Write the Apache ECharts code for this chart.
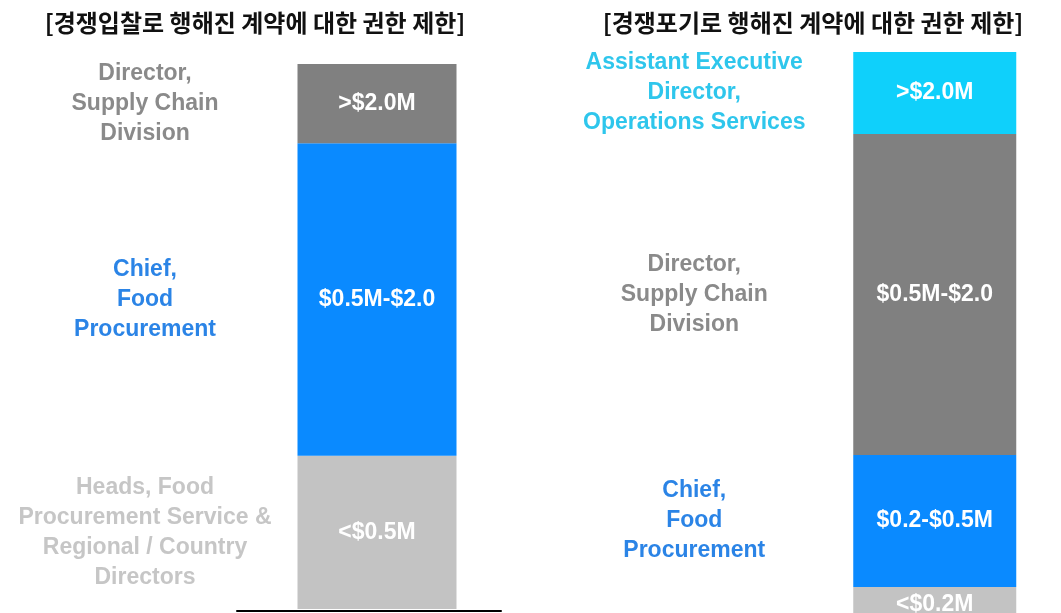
<!DOCTYPE html>
<html>
<head>
<meta charset="utf-8">
<script src="https://cdn.jsdelivr.net/npm/echarts@6/dist/echarts.min.js"></script>
<style>
  html, body { margin: 0; padding: 0; background: #fff; }
  #chart { width: 1061px; height: 613px; }
</style>
</head>
<body>
<div id="chart"></div>
<script>
// 두 개의 누적 막대: 왼쪽 = 경쟁입찰, 오른쪽 = 경쟁포기 (아래에서 위로)
const titles = ['[경쟁입찰로 행해진 계약에 대한 권한 제한]', '[경쟁포기로 행해진 계약에 대한 권한 제한]'];

const leftRoles = [
  'Heads, Food\nProcurement Service &\nRegional / Country\nDirectors',
  'Chief,\nFood\nProcurement',
  'Director,\nSupply Chain\nDivision'
];
const leftRanges = ['<$0.5M', '$0.5M-$2.0', '>$2.0M'];
const leftValues = [15.3, 31.2, 7.9];

const rightRoles = [
  '',
  'Chief,\nFood\nProcurement',
  'Director,\nSupply Chain\nDivision',
  'Assistant Executive\nDirector,\nOperations Services'
];
const rightRanges = ['<$0.2M', '$0.2-$0.5M', '$0.5M-$2.0', '>$2.0M'];
const rightValues = [3.6, 13.2, 32.1, 8.2];

// 색상 (막대 / 설명 글자)
const leftBarColors = ['#c3c3c3', '#0a8aff', '#808080'];
const leftTextColors = ['#c6c6c6', '#2b84e6', '#8a8a8a'];
const rightBarColors = ['#c3c3c3', '#0a8aff', '#808080', '#0fd0fb'];
const rightTextColors = ['#c6c6c6', '#2b84e6', '#8a8a8a', '#2ec6ec'];

const textFont = 'Liberation Sans, Arial, sans-serif';

function buildSeries(roles, ranges, values, barColors, textColors, idx, barWidth) {
  return values.map(function (v, i) {
    return {
      type: 'bar',
      stack: 's' + idx,
      xAxisIndex: idx,
      yAxisIndex: idx,
      barWidth: barWidth,
      silent: true,
      data: [
        {
          value: v,
          itemStyle: { color: 'rgba(0,0,0,0)' },
          label: {
            show: true,
            position: 'inside',
            formatter: roles[i],
            color: textColors[i],
            fontSize: 23,
            lineHeight: 30,
            fontWeight: 'bold',
            fontFamily: textFont
          }
        },
        {
          value: v,
          itemStyle: { color: barColors[i] },
          label: {
            show: true,
            position: 'inside',
            formatter: ranges[i],
            color: '#fff',
            fontSize: 23,
            fontWeight: 'bold',
            fontFamily: textFont
          }
        }
      ]
    };
  });
}

const sum = function (arr) { return arr.reduce(function (a, b) { return a + b; }, 0); };

const titleStyle = { fontSize: 24, fontWeight: 'bold', color: '#111', fontFamily: 'Noto Sans CJK KR' };

const myChart = echarts.init(document.getElementById('chart'));
myChart.setOption({
  backgroundColor: '#fff',
  animation: false,
  title: [
    { text: titles[0], left: 250, top: 6, textAlign: 'center', textStyle: titleStyle },
    { text: titles[1], left: 808, top: 6, textAlign: 'center', textStyle: titleStyle }
  ],
  grid: [
    { left: 29, width: 464, top: 64, height: 545, outerBoundsMode: 'none' },
    // 오른쪽 막대는 그림 아래쪽에서 잘림
    { left: 574, width: 481, top: 52, height: 571, outerBoundsMode: 'none' },
    { left: 237, width: 264, top: 610, height: 1, outerBoundsMode: 'none' } // 왼쪽 기준선
  ],
  xAxis: [
    { type: 'category', gridIndex: 0, data: ['role', 'limit'], show: false },
    { type: 'category', gridIndex: 1, data: ['role', 'limit'], show: false },
    {
      type: 'value', gridIndex: 2, min: 0, max: 1,
      axisLine: { show: true, lineStyle: { color: '#000', width: 2 } },
      axisTick: { show: false }, axisLabel: { show: false }, splitLine: { show: false }
    }
  ],
  yAxis: [
    { type: 'value', gridIndex: 0, min: 0, max: sum(leftValues), show: false },
    { type: 'value', gridIndex: 1, min: 0, max: sum(rightValues), show: false },
    { type: 'value', gridIndex: 2, show: false }
  ],
  series: buildSeries(leftRoles, leftRanges, leftValues, leftBarColors, leftTextColors, 0, 159)
    .concat(buildSeries(rightRoles, rightRanges, rightValues, rightBarColors, rightTextColors, 1, 163))
});
</script>
</body>
</html>
